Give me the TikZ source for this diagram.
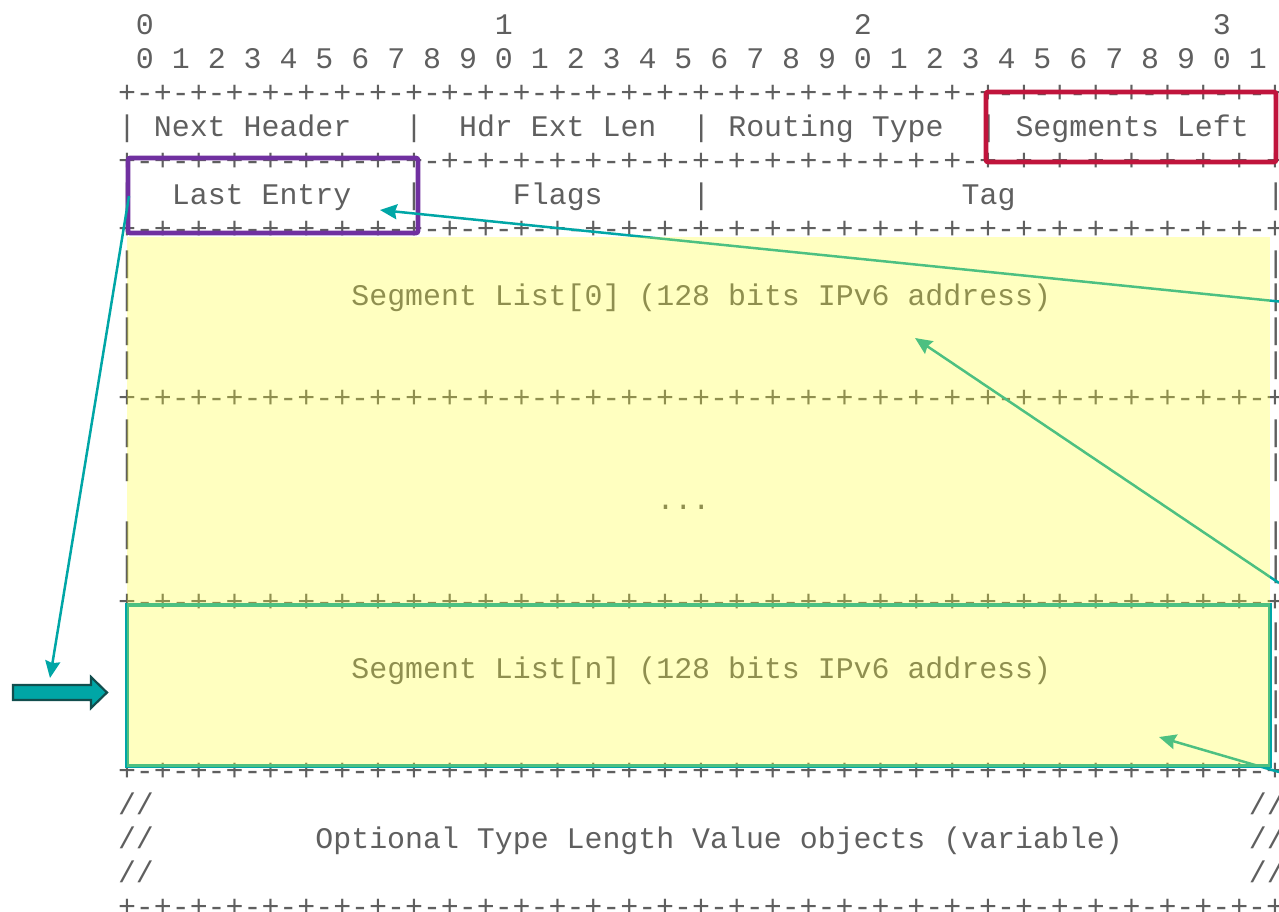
\documentclass[tikz,border=0pt]{standalone}
\usepackage{fontspec}
\newfontfamily\rfcfont{Liberation Mono}
\usetikzlibrary{arrows.meta}
\definecolor{txtgray}{RGB}{95,95,95}
\definecolor{tealc}{RGB}{0,166,166}
\definecolor{tealdark}{RGB}{18,78,78}
\definecolor{purp}{RGB}{112,48,160}
\definecolor{crim}{RGB}{192,20,60}
\definecolor{ylw}{RGB}{255,255,45}
\newcommand\cw{17.95}
\newcommand\rfcline[3]{\node[asc] (t-#1-#2) at ({127+(#2-0.5)*\cw},{102.5+(#1-2)*33.9}) {#3};}
\def\rq{+-+-+-+-}
\def\rul{\rq\rq\rq\rq\rq\rq\rq\rq+}
\begin{document}
\begin{tikzpicture}[x=1pt,y=-1pt,
  asc/.style={anchor=base west,inner sep=0pt,outer sep=0pt,text=txtgray,
    font=\rfcfont\fontsize{29.9pt}{34pt}\selectfont},
  fieldbox/.style={line width=4.6pt,rounded corners=2pt},
  conn/.style={tealc,line width=2.5pt,-{Stealth[length=17pt,width=15pt,inset=2pt]}},
  blockarrow/.style={fill=tealc,draw=tealdark,line width=2.2pt,line join=miter}]
\useasboundingbox (0,0) rectangle (1279,911);
\clip (0,0) rectangle (1279,911);
% bit numbers
\rfcline{0}{1}{0}
\rfcline{0}{21}{1}
\rfcline{0}{41}{2}
\rfcline{0}{61}{3}
\foreach \i in {0,...,31}{
  \pgfmathtruncatemacro\dg{mod(\i,10)}
  \pgfmathtruncatemacro\cc{1+2*\i}
  \rfcline{1}{\cc}{\dg}
}
% rulers
\foreach \r in {2,4,6,11,17,22,26}{\rfcline{\r}{0}{\rul}}
% row 3
\rfcline{3}{0}{|}
\rfcline{3}{2}{Next Header}
\rfcline{3}{16}{|}
\rfcline{3}{19}{Hdr Ext Len}
\rfcline{3}{32}{|}
\rfcline{3}{34}{Routing Type}
\rfcline{3}{48}{|}
\rfcline{3}{50}{Segments Left}
\rfcline{3}{64}{|}
% row 5
\rfcline{5}{0}{|}
\rfcline{5}{3}{Last Entry}
\rfcline{5}{16}{|}
\rfcline{5}{22}{Flags}
\rfcline{5}{32}{|}
\rfcline{5}{47}{Tag}
\rfcline{5}{64}{|}
% segment rows
\foreach \r in {7,8,9,10,12,13,15,16,18,19,20,21}{
  \rfcline{\r}{0}{|}
  \rfcline{\r}{64}{|}
}
\rfcline{8}{13}{Segment List[0] (128 bits IPv6 address)}
\rfcline{14}{30}{...}
\rfcline{19}{13}{Segment List[n] (128 bits IPv6 address)}
% TLV rows
\foreach \r in {23,24,25}{
  \rfcline{\r}{0}{//}
  \rfcline{\r}{63}{//}
}
\rfcline{24}{11}{Optional Type Length Value objects (variable)}
% highlight boxes
\draw[fieldbox,purp] (128,158) rectangle (418,233);
\draw[fieldbox,crim] (986,92) rectangle (1276,162);
\draw[fieldbox,tealc,rounded corners=0pt] (127,605) rectangle (1270,766);
% coordinates
\coordinate (e1) at (1279,301.5);
\coordinate (le) at (380,210);
\coordinate (e2) at (1279,583);
\coordinate (s0) at (915,338);
\coordinate (e3) at (1279,772);
\coordinate (sn) at (1159,737);
\coordinate (lel) at (129,196);
\coordinate (dn) at (50,678);
% connectors
\draw[conn] (e1) -- (le);
\draw[conn] (e2) -- (s0);
\draw[conn] (e3) -- (sn);
\draw[conn] (lel) -- (dn);
% block arrow
\draw[blockarrow] (13,685) -- (91,685) -- (91,677) -- (107,692.5) -- (91,708) -- (91,700) -- (13,700) -- cycle;
% yellow overlay
\fill[ylw,fill opacity=0.3] (127,237) rectangle (1270,767);
\end{tikzpicture}
\end{document}
